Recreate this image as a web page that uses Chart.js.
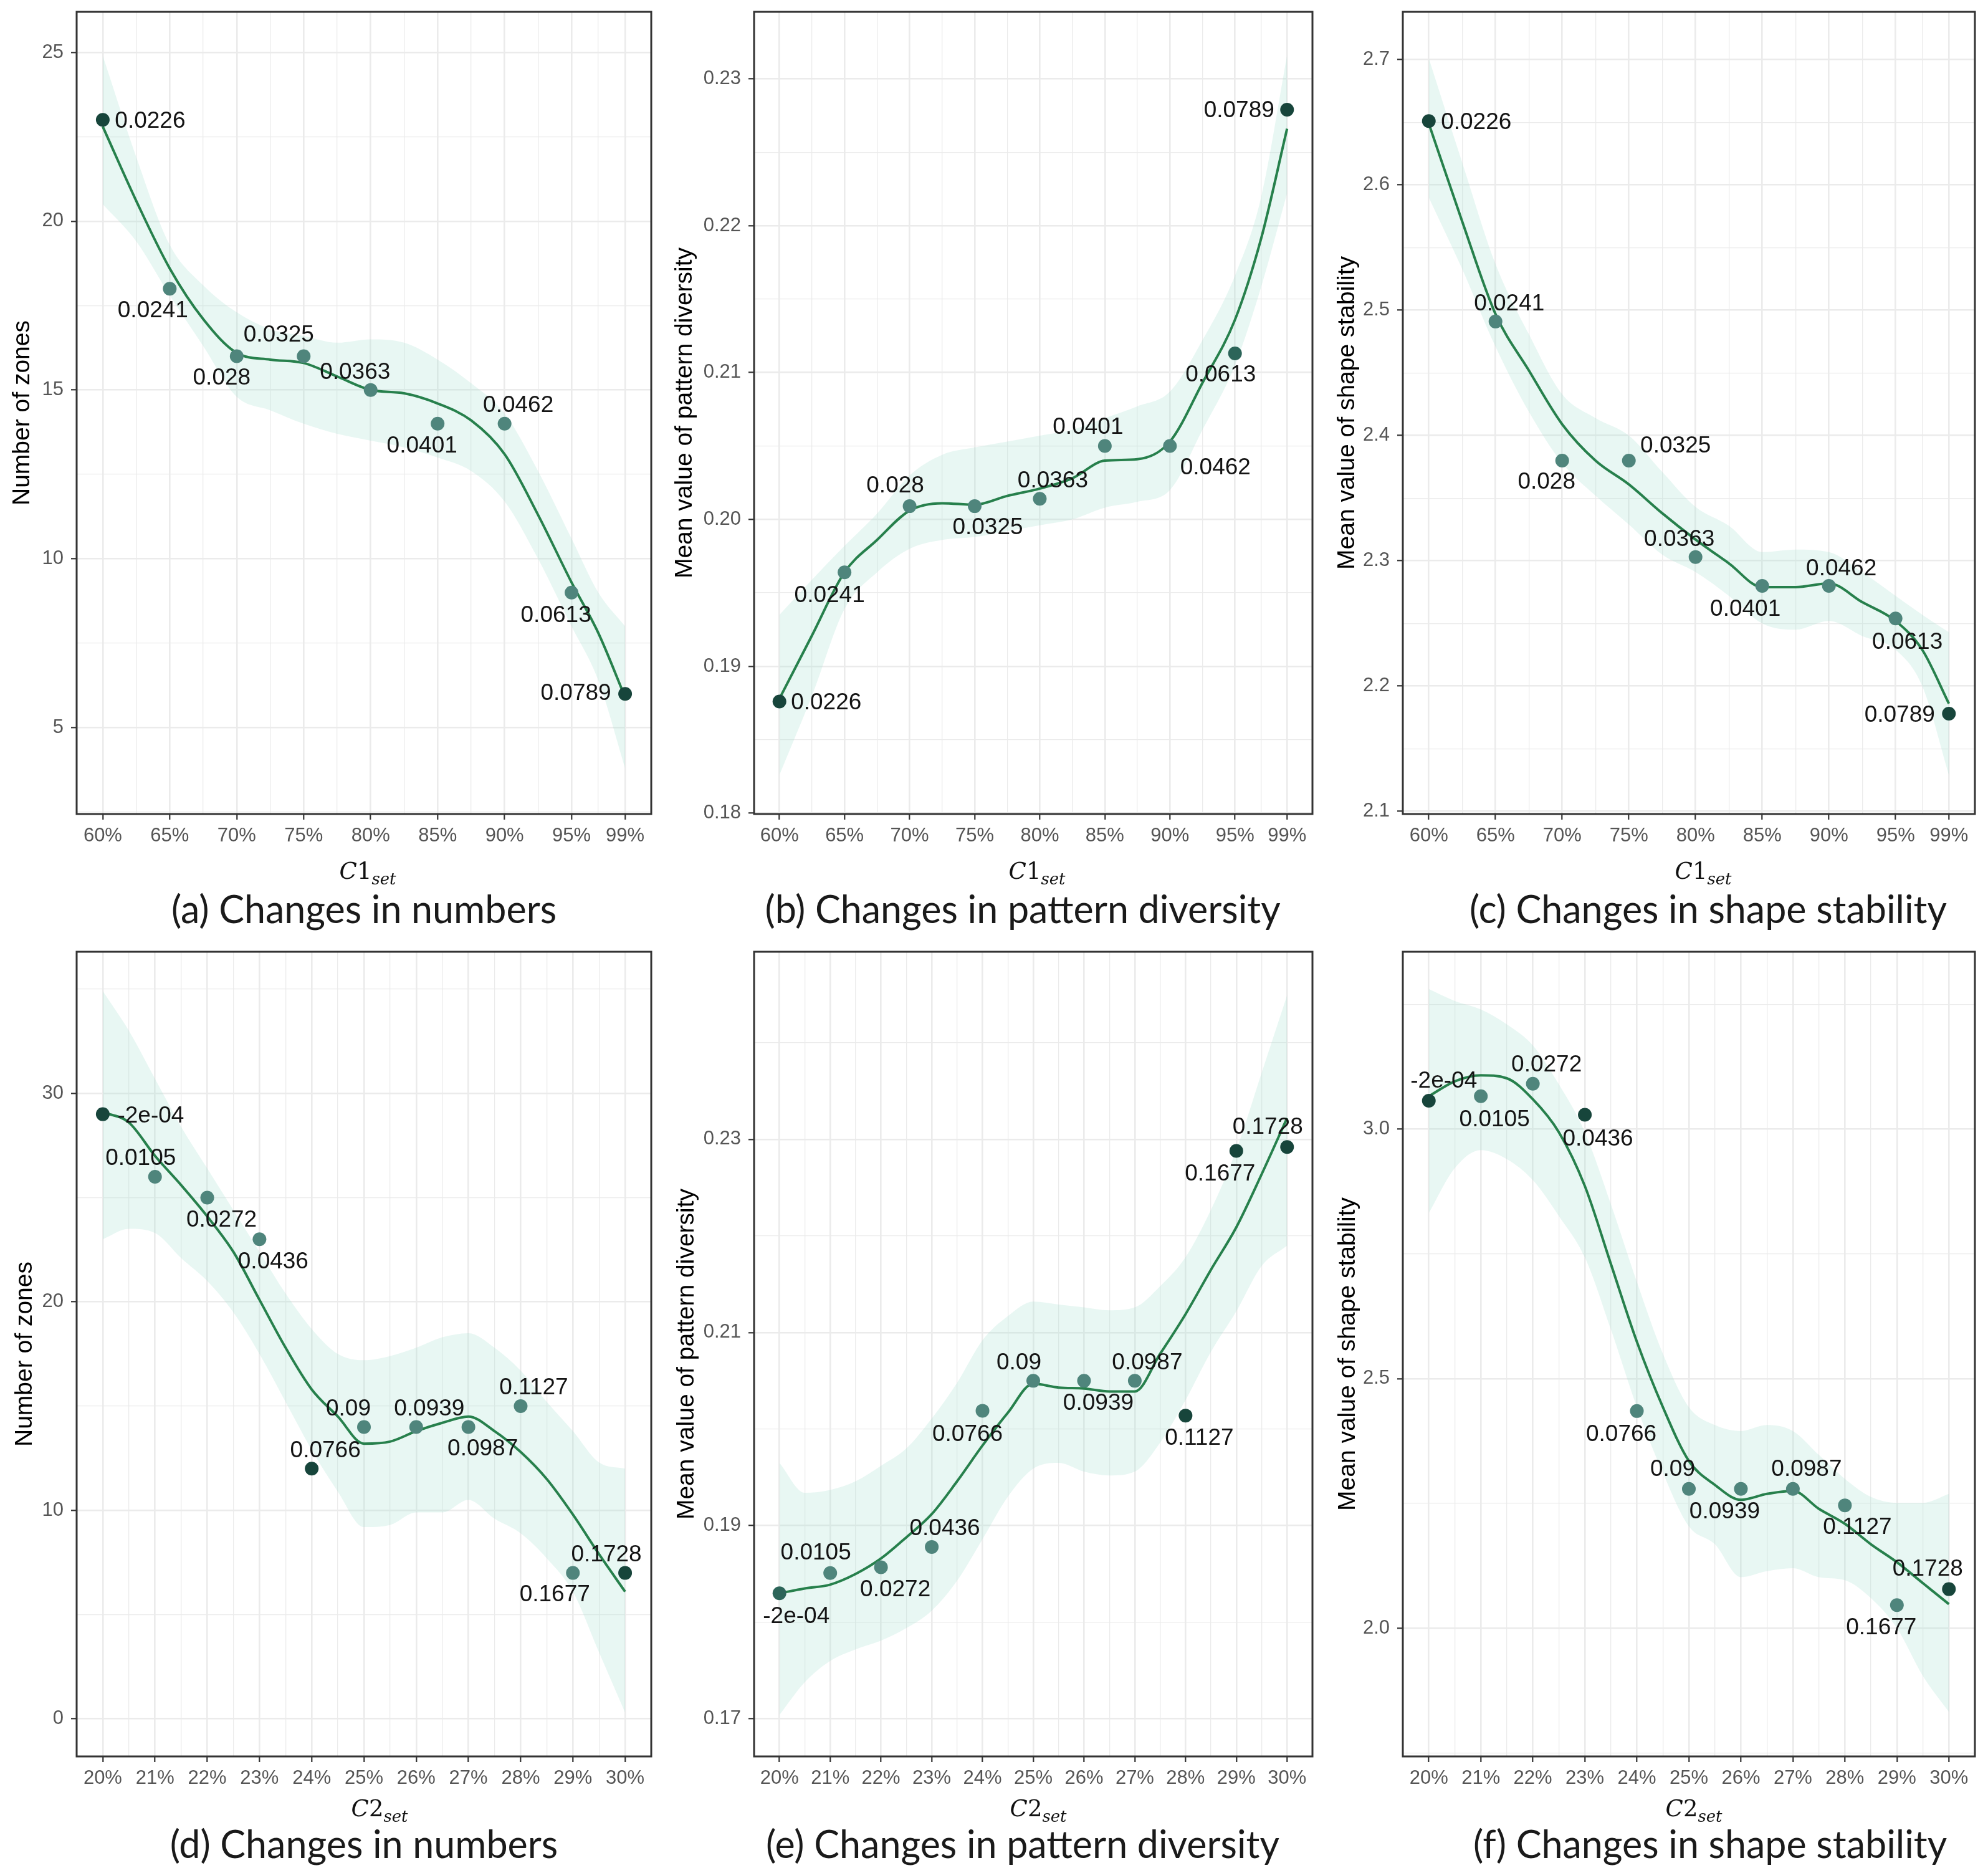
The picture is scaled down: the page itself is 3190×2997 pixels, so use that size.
<!DOCTYPE html>
<html>
<head>
<meta charset="utf-8">
<script src="https://cdn.jsdelivr.net/npm/chart.js@4.4.1/dist/chart.umd.min.js"></script>
<style>
  body { margin: 0; background: #fff; width: 3190px; height: 2997px; position: relative; overflow: hidden; }
  canvas { position: absolute; }
  .xtitle { position: absolute; font-family: "DejaVu Serif", "Liberation Serif", serif; font-style: italic;
            font-size: 37px; line-height: 37px; color: #111; white-space: nowrap; transform: translateX(-50%); }
  .xtitle .up { font-style: normal; }
  .xtitle .sub { font-size: 0.7em; position: relative; top: 0.35em; }
  .caption { position: absolute; font-family: Lato, "Open Sans", sans-serif; font-size: 61px; line-height: 61px;
             color: #1a1a1a; white-space: nowrap; transform: translateX(-50%); }
</style>
</head>
<body>
<canvas id="chart-a"></canvas>
<canvas id="chart-b"></canvas>
<canvas id="chart-c"></canvas>
<canvas id="chart-d"></canvas>
<canvas id="chart-e"></canvas>
<canvas id="chart-f"></canvas>
<script>
// ---- shared x levels ----
const C1_LEVELS = [60, 65, 70, 75, 80, 85, 90, 95, 99];
const C1_LEVEL_LABELS = ['60%', '65%', '70%', '75%', '80%', '85%', '90%', '95%', '99%'];
const C1_MINOR = [62.5, 67.5, 72.5, 77.5, 82.5, 87.5, 92.5, 97];
const C1_FIT_X = [60, 62.5, 65, 67.5, 70, 72.5, 75, 77.5, 80, 82.5, 85, 87.5, 90, 92.5, 95, 97, 99];
const C1_PVALUES = ['0.0226', '0.0241', '0.028', '0.0325', '0.0363', '0.0401', '0.0462', '0.0613', '0.0789'];

const C2_LEVELS = [20, 21, 22, 23, 24, 25, 26, 27, 28, 29, 30];
const C2_LEVEL_LABELS = ['20%', '21%', '22%', '23%', '24%', '25%', '26%', '27%', '28%', '29%', '30%'];
const C2_MINOR = [20.5, 21.5, 22.5, 23.5, 24.5, 25.5, 26.5, 27.5, 28.5, 29.5];
const C2_FIT_X = [20, 20.5, 21, 21.5, 22, 22.5, 23, 23.5, 24, 24.5, 25, 25.5, 26, 26.5, 27, 27.5, 28, 28.5, 29, 29.5, 30];
const C2_PVALUES = ['-2e-04', '0.0105', '0.0272', '0.0436', '0.0766', '0.09', '0.0939', '0.0987', '0.1127', '0.1677', '0.1728'];

// ---- (a) number of zones, C1 ----
const zonesC1 = [23, 18, 16, 16, 15, 14, 14, 9, 6];
const zonesC1Fit = [22.8, 20.6, 18.6, 17.1, 16.1, 15.9, 15.8, 15.4, 15.0, 14.9, 14.6, 14.1, 13.1, 11.3, 9.3, 7.8, 5.9];
const zonesC1Hi = [24.9, 21.9, 19.3, 18.1, 17.3, 16.8, 16.6, 16.4, 16.5, 16.4, 15.9, 15.2, 14.3, 12.6, 10.6, 9.0, 8.0];
const zonesC1Lo = [20.5, 19.4, 17.8, 16.3, 14.8, 14.4, 14.0, 13.7, 13.5, 13.3, 13.0, 12.6, 11.7, 10.0, 8.0, 6.4, 3.8];
const zonesC1Ticks = [5, 10, 15, 20, 25];
const zonesC1TickLabels = ['5', '10', '15', '20', '25'];
const zonesC1Minor = [2.5, 7.5, 12.5, 17.5, 22.5];

// ---- (b) pattern diversity, C1 ----
const diversityC1 = [0.1876, 0.1964, 0.2009, 0.2009, 0.2014, 0.2050, 0.2050, 0.2113, 0.2279];
const diversityC1Fit = [0.1878, 0.1921, 0.1964, 0.1986, 0.2006, 0.2011, 0.2010, 0.2016, 0.2021, 0.2028, 0.2040, 0.2041, 0.2053, 0.2093, 0.2136, 0.2191, 0.2266];
const diversityC1Hi = [0.1935, 0.1959, 0.1982, 0.2004, 0.2030, 0.2044, 0.2049, 0.2053, 0.2057, 0.2061, 0.2069, 0.2077, 0.2087, 0.2122, 0.2166, 0.2219, 0.2316];
const diversityC1Lo = [0.1826, 0.1880, 0.1939, 0.1964, 0.1980, 0.1986, 0.1988, 0.1992, 0.1996, 0.2000, 0.2008, 0.2012, 0.2020, 0.2061, 0.2105, 0.2158, 0.2222];
const diversityC1Ticks = [0.18, 0.19, 0.20, 0.21, 0.22, 0.23];
const diversityC1TickLabels = ['0.18', '0.19', '0.20', '0.21', '0.22', '0.23'];
const diversityC1Minor = [0.185, 0.195, 0.205, 0.215, 0.225];

// ---- (c) shape stability, C1 ----
const stabilityC1 = [2.651, 2.491, 2.380, 2.380, 2.303, 2.280, 2.280, 2.254, 2.178];
const stabilityC1Fit = [2.649, 2.571, 2.497, 2.452, 2.409, 2.380, 2.361, 2.338, 2.317, 2.298, 2.279, 2.279, 2.282, 2.267, 2.252, 2.229, 2.186];
const stabilityC1Hi = [2.701, 2.618, 2.537, 2.481, 2.433, 2.414, 2.400, 2.371, 2.343, 2.328, 2.307, 2.309, 2.307, 2.291, 2.272, 2.257, 2.243];
const stabilityC1Lo = [2.590, 2.533, 2.471, 2.419, 2.378, 2.352, 2.329, 2.305, 2.291, 2.272, 2.250, 2.245, 2.252, 2.240, 2.229, 2.200, 2.129];
const stabilityC1Ticks = [2.1, 2.2, 2.3, 2.4, 2.5, 2.6, 2.7];
const stabilityC1TickLabels = ['2.1', '2.2', '2.3', '2.4', '2.5', '2.6', '2.7'];
const stabilityC1Minor = [2.15, 2.25, 2.35, 2.45, 2.55, 2.65];

// ---- (d) number of zones, C2 ----
const zonesC2 = [29, 26, 25, 23, 12, 14, 14, 14, 15, 7, 7];
const zonesC2Fit = [29.1, 28.6, 27.0, 25.6, 24.1, 22.4, 20.1, 17.8, 15.8, 14.5, 13.2, 13.3, 13.8, 14.2, 14.5, 13.8, 12.8, 11.5, 9.8, 7.9, 6.1];
const zonesC2Hi = [34.9, 33.0, 30.7, 28.4, 26.4, 24.4, 22.4, 20.4, 18.7, 17.5, 17.2, 17.4, 17.8, 18.3, 18.5, 17.8, 16.7, 15.2, 13.8, 12.3, 12.0];
const zonesC2Lo = [23.0, 23.5, 23.3, 22.1, 21.0, 19.5, 17.5, 15.2, 12.9, 10.9, 9.2, 9.3, 9.9, 9.9, 10.5, 9.6, 8.9, 7.7, 6.1, 3.2, 0.3];
const zonesC2Ticks = [0, 10, 20, 30];
const zonesC2TickLabels = ['0', '10', '20', '30'];
const zonesC2Minor = [5, 15, 25, 35];

// ---- (e) pattern diversity, C2 ----
const diversityC2 = [0.1830, 0.1851, 0.1857, 0.1878, 0.2019, 0.2050, 0.2050, 0.2050, 0.2014, 0.2288, 0.2292];
const diversityC2Fit = [0.1830, 0.1835, 0.1839, 0.1850, 0.1866, 0.1888, 0.1912, 0.1946, 0.1983, 0.2017, 0.2047, 0.2043, 0.2042, 0.2039, 0.2039, 0.2078, 0.2119, 0.2165, 0.2209, 0.2264, 0.2322];
const diversityC2Hi = [0.1965, 0.1934, 0.1937, 0.1946, 0.1962, 0.1980, 0.2011, 0.2048, 0.2092, 0.2117, 0.2132, 0.2129, 0.2126, 0.2123, 0.2126, 0.2148, 0.2178, 0.2227, 0.2289, 0.2369, 0.2449];
const diversityC2Lo = [0.1704, 0.1738, 0.1760, 0.1772, 0.1781, 0.1794, 0.1812, 0.1843, 0.1886, 0.1930, 0.1959, 0.1965, 0.1956, 0.1952, 0.1956, 0.1986, 0.2030, 0.2080, 0.2122, 0.2169, 0.2190];
const diversityC2Ticks = [0.17, 0.19, 0.21, 0.23];
const diversityC2TickLabels = ['0.17', '0.19', '0.21', '0.23'];
const diversityC2Minor = [0.18, 0.20, 0.22, 0.24];

// ---- (f) shape stability, C2 ----
const stabilityC2 = [3.057, 3.066, 3.091, 3.029, 2.435, 2.279, 2.279, 2.279, 2.246, 2.046, 2.078];
const stabilityC2Fit = [3.066, 3.096, 3.108, 3.102, 3.060, 2.994, 2.886, 2.730, 2.574, 2.443, 2.335, 2.287, 2.257, 2.269, 2.275, 2.239, 2.209, 2.168, 2.132, 2.090, 2.048];
const stabilityC2Hi = [3.281, 3.257, 3.240, 3.210, 3.168, 3.090, 2.994, 2.850, 2.694, 2.550, 2.443, 2.407, 2.395, 2.407, 2.395, 2.347, 2.299, 2.263, 2.251, 2.251, 2.269];
const stabilityC2Lo = [2.832, 2.922, 2.958, 2.940, 2.898, 2.826, 2.743, 2.599, 2.443, 2.311, 2.204, 2.168, 2.102, 2.114, 2.120, 2.102, 2.096, 2.060, 2.000, 1.904, 1.832];
const stabilityC2Ticks = [2.0, 2.5, 3.0];
const stabilityC2TickLabels = ['2.0', '2.5', '3.0'];
const stabilityC2Minor = [1.75, 2.25, 2.75, 3.25];

// ---- look ----
const LINE_GREEN = '#27804c';
const RIBBON = 'rgba(160, 220, 205, 0.24)';
const SHADES = { d: '#17453b', x: '#2c6559', m: '#4f857c' };
const GRID_COLOR = '#ebebeb';

// ---- page geometry (px) ----
const COL_LEFT = [0, 1065, 2115];
const COL_FRAME = [[123, 1045], [1210, 2106], [2251, 3169]];
const ROW_TOP = [-30, 1480];
const ROW_FRAME = [[19, 1306], [1527, 2818]];
const ROW_BOTTOM = [1385, 2890];

Chart.defaults.font.family = '"Liberation Sans", Arial, sans-serif';

function pairs(xs, ys) {
    return xs.map((x, i) => ({ x: x, y: ys[i] }));
}

function tickList(major, minor) {
    return major.map(v => ({ value: v, major: true }))
        .concat(minor.map(v => ({ value: v, major: false })))
        .sort((p, q) => p.value - q.value);
}

const panelFrame = {
    id: 'panelFrame',
    afterDraw(chart) {
        const { ctx, chartArea: a } = chart;
        ctx.save();
        ctx.strokeStyle = '#333333';
        ctx.lineWidth = 3;
        ctx.strokeRect(a.left, a.top, a.right - a.left, a.bottom - a.top);
        ctx.restore();
    }
};

function pointLabels(texts, nudge) {
    return {
        id: 'pointLabels',
        afterDatasetsDraw(chart) {
            const ctx = chart.ctx;
            const pts = chart.getDatasetMeta(0).data;
            ctx.save();
            ctx.font = '37px "Liberation Sans", Arial, sans-serif';
            ctx.fillStyle = '#141414';
            ctx.textAlign = 'center';
            ctx.textBaseline = 'middle';
            pts.forEach((pt, i) => {
                ctx.fillText(texts[i], pt.x + nudge[i][0], pt.y + nudge[i][1]);
            });
            ctx.restore();
        }
    };
}

function gridFor() {
    return {
        color: GRID_COLOR,
        lineWidth: c => (c.tick && c.tick.major ? 2.6 : 1.3),
        tickColor: c => (c.tick && c.tick.major ? '#333333' : 'rgba(0,0,0,0)'),
        tickWidth: 2.2,
        tickLength: 9,
        drawTicks: true
    };
}

function makePanel(p) {
    const el = document.getElementById(p.canvas);
    const left = COL_LEFT[p.col];
    const top = ROW_TOP[p.row];
    const [fl, fr] = COL_FRAME[p.col];
    const [ft, fb] = ROW_FRAME[p.row];
    const w = Math.min(fr + 20, 3190) - left;
    const h = ROW_BOTTOM[p.row] - top;
    el.width = w;
    el.height = h;
    el.style.left = left + 'px';
    el.style.top = top + 'px';
    el.style.width = w + 'px';
    el.style.height = h + 'px';

    new Chart(el, { // eslint-disable-line
        type: 'line',
        data: {
            datasets: [
                {
                    data: pairs(p.xLevels, p.values),
                    showLine: false,
                    pointRadius: 11,
                    pointBorderWidth: 0,
                    pointBackgroundColor: p.shade.map(s => SHADES[s]),
                    order: 0
                },
                {
                    data: pairs(p.fitX, p.fit),
                    borderColor: LINE_GREEN,
                    borderWidth: 4,
                    pointRadius: 0,
                    cubicInterpolationMode: 'monotone',
                    order: 1
                },
                {
                    data: pairs(p.fitX, p.hi),
                    borderWidth: 0,
                    pointRadius: 0,
                    fill: '+1',
                    backgroundColor: RIBBON,
                    cubicInterpolationMode: 'monotone',
                    order: 2
                },
                {
                    data: pairs(p.fitX, p.lo),
                    borderWidth: 0,
                    pointRadius: 0,
                    fill: false,
                    cubicInterpolationMode: 'monotone',
                    order: 3
                }
            ]
        },
        options: {
            responsive: false,
            animation: false,
            events: [],
            layout: { padding: { left: 0, top: ft - top, right: w - (fr - left), bottom: 0 } },
            plugins: { legend: { display: false }, tooltip: { enabled: false } },
            scales: {
                x: {
                    type: 'linear',
                    min: p.xRange[0],
                    max: p.xRange[1],
                    afterBuildTicks: s => { s.ticks = tickList(p.xLevels, p.xMinor); },
                    afterFit: s => { s.height = ROW_BOTTOM[p.row] - fb; s.paddingLeft = 0; s.paddingRight = 0; },
                    ticks: {
                        autoSkip: false,
                        maxRotation: 0,
                        minRotation: 0,
                        padding: 11,
                        color: '#555555',
                        font: { size: 31, lineHeight: 1 },
                        callback: v => { const i = p.xLevels.indexOf(v); return i >= 0 ? p.xLabels[i] : ''; }
                    },
                    grid: gridFor(),
                    border: { display: false }
                },
                y: {
                    type: 'linear',
                    min: p.yRange[0],
                    max: p.yRange[1],
                    afterBuildTicks: s => { s.ticks = tickList(p.yTicks, p.yMinor); },
                    afterFit: s => { s.width = fl - left; s.paddingTop = 0; s.paddingBottom = 0; },
                    ticks: {
                        autoSkip: false,
                        padding: 12,
                        color: '#555555',
                        font: { size: 31, lineHeight: 1 },
                        callback: v => { const i = p.yTicks.indexOf(v); return i >= 0 ? p.yTickLabels[i] : ''; }
                    },
                    title: {
                        display: true,
                        text: p.yTitle,
                        color: '#000000',
                        font: { size: 39, lineHeight: 1 },
                        padding: { top: p.yTitleX - left - 19.5, bottom: 0 }
                    },
                    grid: gridFor(),
                    border: { display: false }
                }
            }
        },
        plugins: [panelFrame, pointLabels(p.texts, p.nudge)]
    });

    const xt = document.createElement('div');
    xt.className = 'xtitle';
    xt.innerHTML = 'C<span class="up">' + p.xName[1] + '</span><span class="sub">set</span>';
    xt.style.left = p.xTitleX + 'px';
    xt.style.top = (p.row === 0 ? 1379 : 2883) + 'px';
    document.body.appendChild(xt);

    const cap = document.createElement('div');
    cap.className = 'caption';
    cap.textContent = p.caption;
    cap.style.left = p.captionX + 'px';
    cap.style.top = (p.row === 0 ? 1427 : 2927) + 'px';
    document.body.appendChild(cap);
}

const C1_RANGE = [58.05, 100.95];
const C2_RANGE = [19.5, 30.5];

const panels = [
    {
        canvas: 'chart-a', col: 0, row: 0, xName: 'C1', xRange: C1_RANGE,
        xLevels: C1_LEVELS, xLabels: C1_LEVEL_LABELS, xMinor: C1_MINOR, fitX: C1_FIT_X,
        values: zonesC1, fit: zonesC1Fit, hi: zonesC1Hi, lo: zonesC1Lo,
        yRange: [2.44, 26.2], yTicks: zonesC1Ticks, yTickLabels: zonesC1TickLabels, yMinor: zonesC1Minor,
        yTitle: 'Number of zones', yTitleX: 36, xTitleX: 590, captionX: 584,
        caption: '(a) Changes in numbers', texts: C1_PVALUES,
        shade: ['d', 'm', 'm', 'm', 'm', 'm', 'm', 'm', 'd'],
        nudge: [[76, 2], [-27, 36], [-24, 35], [-40, -34], [-25, -28], [-25, 36], [22, -29], [-25, 37], [-79, 0]]
    },
    {
        canvas: 'chart-b', col: 1, row: 0, xName: 'C1', xRange: C1_RANGE,
        xLevels: C1_LEVELS, xLabels: C1_LEVEL_LABELS, xMinor: C1_MINOR, fitX: C1_FIT_X,
        values: diversityC1, fit: diversityC1Fit, hi: diversityC1Hi, lo: diversityC1Lo,
        yRange: [0.17994, 0.23456], yTicks: diversityC1Ticks, yTickLabels: diversityC1TickLabels, yMinor: diversityC1Minor,
        yTitle: 'Mean value of pattern diversity', yTitleX: 1099, xTitleX: 1664, captionX: 1641,
        caption: '(b) Changes in pattern diversity', texts: C1_PVALUES,
        shade: ['d', 'm', 'm', 'm', 'm', 'm', 'm', 'x', 'd'],
        nudge: [[75, 2], [-24, 38], [-23, -32], [21, 35], [21, -29], [-27, -30], [73, 35], [-23, 35], [-77, 2]]
    },
    {
        canvas: 'chart-c', col: 2, row: 0, xName: 'C1', xRange: C1_RANGE,
        xLevels: C1_LEVELS, xLabels: C1_LEVEL_LABELS, xMinor: C1_MINOR, fitX: C1_FIT_X,
        values: stabilityC1, fit: stabilityC1Fit, hi: stabilityC1Hi, lo: stabilityC1Lo,
        yRange: [2.0979, 2.7382], yTicks: stabilityC1Ticks, yTickLabels: stabilityC1TickLabels, yMinor: stabilityC1Minor,
        yTitle: 'Mean value of shape stability', yTitleX: 2162, xTitleX: 2733, captionX: 2741,
        caption: '(c) Changes in shape stability', texts: C1_PVALUES,
        shade: ['d', 'm', 'm', 'm', 'm', 'm', 'm', 'm', 'd'],
        nudge: [[76, 3], [22, -28], [-25, 35], [75, -23], [-26, -28], [-27, 38], [20, -27], [19, 39], [-79, 3]]
    },
    {
        canvas: 'chart-d', col: 0, row: 1, xName: 'C2', xRange: C2_RANGE,
        xLevels: C2_LEVELS, xLabels: C2_LEVEL_LABELS, xMinor: C2_MINOR, fitX: C2_FIT_X,
        values: zonesC2, fit: zonesC2Fit, hi: zonesC2Hi, lo: zonesC2Lo,
        yRange: [-1.8, 36.79], yTicks: zonesC2Ticks, yTickLabels: zonesC2TickLabels, yMinor: zonesC2Minor,
        yTitle: 'Number of zones', yTitleX: 40, xTitleX: 609, captionX: 584,
        caption: '(d) Changes in numbers', texts: C2_PVALUES,
        shade: ['d', 'm', 'm', 'm', 'd', 'm', 'm', 'm', 'm', 'm', 'd'],
        nudge: [[77, 3], [-23, -29], [23, 36], [22, 36], [22, -29], [-25, -29], [21, -29], [23, 35], [21, -29], [-29, 35], [-30, -29]]
    },
    {
        canvas: 'chart-e', col: 1, row: 1, xName: 'C2', xRange: C2_RANGE,
        xLevels: C2_LEVELS, xLabels: C2_LEVEL_LABELS, xMinor: C2_MINOR, fitX: C2_FIT_X,
        values: diversityC2, fit: diversityC2Fit, hi: diversityC2Hi, lo: diversityC2Lo,
        yRange: [0.16611, 0.24942], yTicks: diversityC2Ticks, yTickLabels: diversityC2TickLabels, yMinor: diversityC2Minor,
        yTitle: 'Mean value of pattern diversity', yTitleX: 1102, xTitleX: 1666, captionX: 1641,
        caption: '(e) Changes in pattern diversity', texts: C2_PVALUES,
        shade: ['x', 'm', 'm', 'm', 'm', 'm', 'm', 'm', 'd', 'd', 'd'],
        nudge: [[27, 38], [-23, -32], [23, 36], [21, -29], [-24, 38], [-23, -29], [23, 36], [20, -29], [22, 37], [-26, 37], [-31, -32]]
    },
    {
        canvas: 'chart-f', col: 2, row: 1, xName: 'C2', xRange: C2_RANGE,
        xLevels: C2_LEVELS, xLabels: C2_LEVEL_LABELS, xMinor: C2_MINOR, fitX: C2_FIT_X,
        values: stabilityC2, fit: stabilityC2Fit, hi: stabilityC2Hi, lo: stabilityC2Lo,
        yRange: [1.7427, 3.3556], yTicks: stabilityC2Ticks, yTickLabels: stabilityC2TickLabels, yMinor: stabilityC2Minor,
        yTitle: 'Mean value of shape stability', yTitleX: 2163, xTitleX: 2718, captionX: 2744,
        caption: '(f) Changes in shape stability', texts: C2_PVALUES,
        shade: ['d', 'm', 'm', 'd', 'm', 'm', 'm', 'm', 'm', 'm', 'd'],
        nudge: [[24, -31], [22, 38], [22, -30], [21, 39], [-25, 38], [-26, -31], [-26, 37], [22, -31], [20, 36], [-25, 37], [-34, -32]]
    }
];

for (let panel of panels) {
    makePanel(panel);
}
</script>
</body>
</html>
